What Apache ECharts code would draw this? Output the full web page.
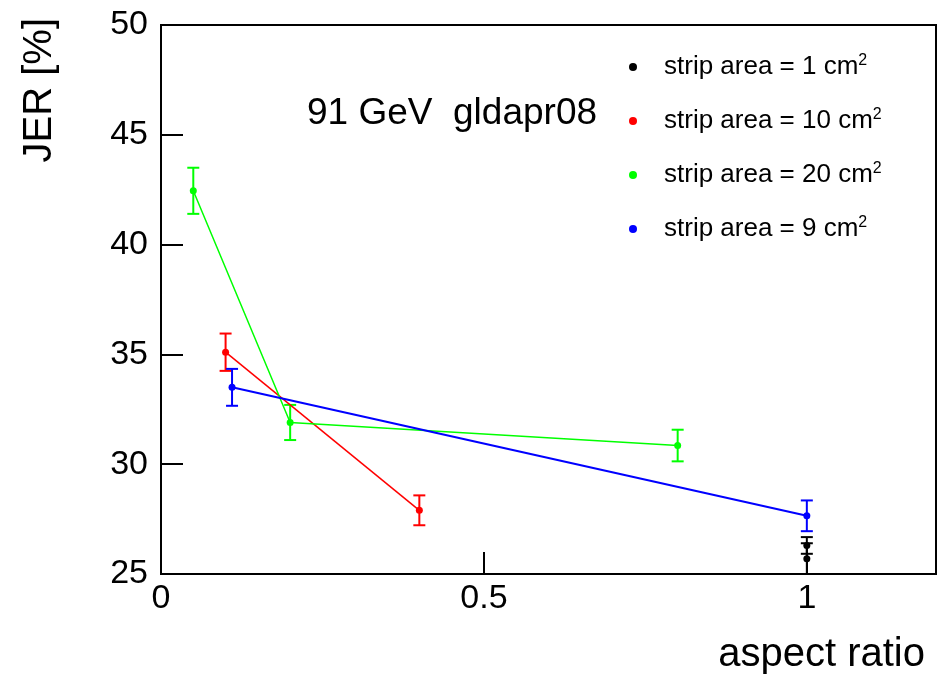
<!DOCTYPE html>
<html>
<head>
<meta charset="utf-8">
<script src="https://cdn.jsdelivr.net/npm/echarts@6/dist/echarts.min.js"></script>
<style>
html,body{margin:0;padding:0;background:#fff;}
#chart{width:944px;height:684px;}
</style>
</head>
<body>
<div id="chart"></div>
<script>
// ---- data ----
const seriesNames = ['strip area = 1 cm²', 'strip area = 10 cm²', 'strip area = 20 cm²', 'strip area = 9 cm²'];
const seriesColors = ['#000000', '#ff0000', '#00ff00', '#0000ff'];

const xBlack = [1.0, 1.0];
const yBlack = [26.3, 25.7];
const eBlack = [0.38, 0.7];

const xRed = [0.1, 0.4];
const yRed = [35.1, 27.9];
const eRed = [0.85, 0.68];

const xGreen = [0.05, 0.2, 0.8];
const yGreen = [42.45, 31.9, 30.85];
const eGreen = [1.05, 0.8, 0.72];

const xBlue = [0.11, 1.0];
const yBlue = [33.5, 27.65];
const eBlue = [0.84, 0.7];

const xTicks = [0, 0.5, 1];
const yTicks = [25, 30, 35, 40, 45, 50];
const annotation = '91 GeV  gldapr08';
const xTitle = 'aspect ratio';
const yTitle = 'JER [%]';

// ---- build ----
const FONT = 'Liberation Sans, Arial, Helvetica, sans-serif';
const groups = [
  {x: xBlack, y: yBlack, e: eBlack, lw: 1.5},
  {x: xRed, y: yRed, e: eRed, lw: 1.5},
  {x: xGreen, y: yGreen, e: eGreen, lw: 1.5},
  {x: xBlue, y: yBlue, e: eBlue, lw: 2}
];

const series = [];
groups.forEach(function (g, i) {
  const color = seriesColors[i];
  const errData = g.x.map(function (xv, k) { return [xv, g.y[k], g.e[k]]; });
  series.push({
    name: 'err ' + seriesNames[i],
    type: 'custom',
    data: errData,
    encode: {x: 0, y: 1},
    z: 2,
    silent: true,
    renderItem: function (params, api) {
      const xv = api.value(0), yv = api.value(1), ev = api.value(2);
      const top = api.coord([xv, yv + ev]);
      const bot = api.coord([xv, yv - ev]);
      const hw = 6;
      const st = {stroke: color, lineWidth: 2};
      return {
        type: 'group',
        children: [
          {type: 'line', shape: {x1: top[0], y1: top[1], x2: bot[0], y2: bot[1]}, style: st},
          {type: 'line', shape: {x1: top[0] - hw, y1: top[1], x2: top[0] + hw, y2: top[1]}, style: st},
          {type: 'line', shape: {x1: bot[0] - hw, y1: bot[1], x2: bot[0] + hw, y2: bot[1]}, style: st}
        ]
      };
    }
  });
  series.push({
    name: seriesNames[i],
    type: 'line',
    data: g.x.map(function (xv, k) { return [xv, g.y[k]]; }),
    symbol: 'circle',
    symbolSize: 7,
    showSymbol: true,
    z: 3,
    itemStyle: {color: color},
    lineStyle: {color: color, width: g.lw},
    emphasis: {disabled: true}
  });
});

const chart = echarts.init(document.getElementById('chart'), null, {renderer: 'canvas'});
chart.setOption({
  animation: false,
  backgroundColor: '#ffffff',
  grid: {
    left: 161, right: 8, top: 25, bottom: 110,
    show: true, borderColor: '#000', borderWidth: 2,
    containLabel: false, outerBoundsMode: 'none'
  },
  legend: {
    data: seriesNames,
    orient: 'vertical',
    left: 629, top: 53,
    padding: 0,
    itemGap: 27,
    itemWidth: 8, itemHeight: 8,
    icon: 'circle',
    selectedMode: false,
    formatter: function (name) {
      const base = name.replace('²', '');
      return '{a|' + base + '}{s|2}';
    },
    textStyle: {
      rich: {
        a: {fontSize: 26, fontFamily: FONT, color: '#000', lineHeight: 26, padding: [0, 0, 0, 22], verticalAlign: 'bottom'},
        s: {fontSize: 16, fontFamily: FONT, color: '#000', lineHeight: 16, padding: [0, 0, 11, 0], verticalAlign: 'bottom'}
      }
    }
  },
  xAxis: {
    type: 'value',
    min: 0, max: 1.2, interval: 0.5,
    name: xTitle,
    nameLocation: 'end',
    nameGap: 0,
    nameMoveOverlap: false,
    nameTextStyle: {
      fontSize: 40, fontFamily: FONT, color: '#000',
      align: 'right', verticalAlign: 'top', lineHeight: 40,
      padding: [61, 11, 0, 0]
    },
    axisLine: {show: true, onZero: false, lineStyle: {color: '#000', width: 2}},
    axisTick: {show: true, inside: true, length: 22, lineStyle: {color: '#000', width: 2}},
    axisLabel: {
      color: '#000', fontSize: 34, fontFamily: FONT, margin: 8,
      showMaxLabel: false,
      formatter: function (v) {
        return xTicks.indexOf(Math.round(v * 100) / 100) >= 0 ? String(Math.round(v * 100) / 100) : '';
      }
    },
    splitLine: {show: false}
  },
  yAxis: {
    type: 'value',
    min: 25, max: 50, interval: 5,
    name: yTitle,
    nameLocation: 'end',
    nameGap: 7,
    nameRotate: 90,
    nameMoveOverlap: false,
    nameTextStyle: {
      fontSize: 40, fontFamily: FONT, color: '#000',
      align: 'right', verticalAlign: 'bottom', lineHeight: 40,
      padding: [0, 0, 101, 0]
    },
    axisLine: {show: true, lineStyle: {color: '#000', width: 2}},
    axisTick: {show: true, inside: true, length: 22, lineStyle: {color: '#000', width: 2}},
    axisLabel: {
      color: '#000', fontSize: 34, fontFamily: FONT, margin: 13,
      formatter: function (v) { return yTicks.indexOf(v) >= 0 ? String(v) : ''; }
    },
    splitLine: {show: false}
  },
  graphic: [{
    type: 'text',
    left: 307,
    top: 95,
    style: {
      text: annotation,
      fontSize: 37,
      fontFamily: FONT,
      fill: '#000'
    }
  }],
  series: series
});
</script>
</body>
</html>
